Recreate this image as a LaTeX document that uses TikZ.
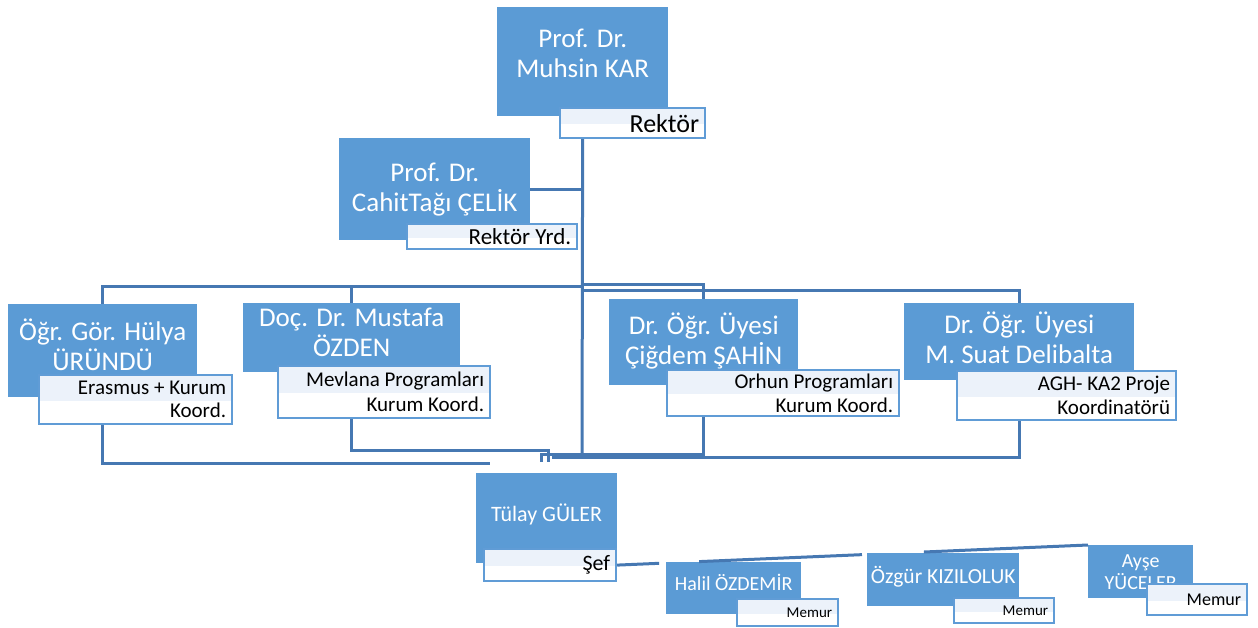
\documentclass[tikz,border=0pt]{standalone}
\usepackage{fontspec}
\setmainfont{Carlito}
\usepackage{tikz}

\definecolor{boxblue}{RGB}{91,155,213}
\definecolor{tagline}{RGB}{96,156,214}
\definecolor{tagband}{RGB}{236,242,250}
\definecolor{linkblue}{RGB}{70,120,178}

\newcommand{\fs}[2]{\fontsize{#1}{#2}\selectfont}

\begin{document}
\begin{tikzpicture}[x=1pt, y=-1pt,
  unit/.style={fill=boxblue, text=white, align=center, anchor=north west, inner sep=2pt, font=\fs{27}{30}},
  tag/.style={draw=tagline, line width=2.2pt, fill=white, anchor=north west, align=flush right, inner xsep=6pt, inner ysep=0pt, text=black,
    path picture={\fill[tagband] (path picture bounding box.north west) rectangle ([yshift=-1pt]path picture bounding box.east);}},
  link/.style={draw=linkblue, line width=3pt}]

\useasboundingbox (0,0) rectangle (1258,628);

% Rektor and Rektor Yrd.
\node[unit, minimum width=171, minimum height=109, text depth=16pt] (kar) at (497,7) {Prof. Dr.\\Muhsin KAR};
\node[unit, minimum width=191, minimum height=102] (cahit) at (339,138) {Prof. Dr.\\CahitTağı ÇELİK};

% Koordinatorler
\node[unit, minimum width=189, minimum height=93, text depth=12pt] (hulya) at (8,304) {Öğr. Gör. Hülya\\ÜRÜNDÜ};
\node[unit, minimum width=217, minimum height=69, text depth=10pt] (mustafa) at (243,303) {Doç. Dr. Mustafa\\ÖZDEN};
\node[unit, minimum width=189, minimum height=86, text depth=8pt] (cigdem) at (609,299) {Dr. Öğr. Üyesi\\Çiğdem ŞAHİN};
\node[unit, minimum width=230, minimum height=77, text depth=8pt] (suat) at (904,303) {Dr. Öğr. Üyesi\\M. Suat Delibalta};

% Sef and Memur
\node[unit, minimum width=141, minimum height=90, font=\fs{22}{25}, text depth=12pt] (tulay) at (476,473) {Tülay GÜLER};
\node[unit, minimum width=135, minimum height=52, font=\fs{20}{24}, text depth=12pt] (halil) at (666,562) {Halil ÖZDEMİR};
\node[unit, minimum width=152, minimum height=53, font=\fs{21.5}{24}, text depth=10pt] (ozgur) at (867,553) {Özgür KIZILOLUK};
\node[unit, minimum width=105, minimum height=53, font=\fs{20}{22}] (ayse) at (1088,545) {Ayşe\\YÜCELER};

% Connectors
\coordinate (hub) at (582,457);
\coordinate (busL) at (582,287);
\coordinate (busR) at (582,291);
\coordinate (hubA) at (490,463);
\coordinate (hubB) at (548,462);
\coordinate (hubC) at (541,462);
\coordinate (hubD) at (552,457);
\draw[link] (kar.south) -- (hub);
\draw[link] (cahit.east) -- (cahit.east -| hub);
\draw[link] (hulya.north) |- (busL);
\draw[link] (mustafa.north) -- (mustafa.north |- busL);
\draw[link] (cigdem.north) |- ([yshift=2pt]busL);
\draw[link] (suat.north) |- (busR);
\draw[link] (hulya.south) |- (hubA);
\draw[link] (mustafa.south) |- ([yshift=12pt]hubB) -- (hubB);
\draw[link] (cigdem.south) |- ([yshift=8pt]hubC) -- (hubC);
\draw[link] (suat.south) |- (hubD);

% Gorev etiketleri
\node[tag, text width=133, minimum height=30, font=\fs{26}{28}] (karTag) at (559,107) {Rektör};
\node[tag, text width=158, minimum height=25, font=\fs{23}{26}] (cahitTag) at (406,223) {Rektör Yrd.};
\node[tag, text width=181, minimum height=49, font=\fs{21}{23}] (hulyaTag) at (38,374) {Erasmus + Kurum\\Koord.};
\node[tag, text width=200, minimum height=52, font=\fs{21}{25}] (mustafaTag) at (277,365) {Mevlana Programları\\Kurum Koord.};
\node[tag, text width=220, minimum height=46, font=\fs{21}{24}] (cigdemTag) at (666,369) {Orhun Programları\\Kurum Koord.};
\node[tag, text width=207, minimum height=49, font=\fs{21}{24}] (suatTag) at (956,370) {AGH- KA2 Proje\\Koordinatörü};
\node[tag, text width=120, minimum height=32, font=\fs{22}{24}] (sefTag) at (483,548) {Şef};
\node[tag, text width=89, minimum height=27, font=\fs{15}{18}] (halilTag) at (736,598) {Memur};
\node[tag, text width=88, minimum height=25, font=\fs{15}{18}] (ozgurTag) at (953,597) {Memur};
\node[tag, text width=88, minimum height=31, font=\fs{18}{21}] (ayseTag) at (1146,583) {Memur};

\draw[link, dash pattern=on 42pt off 40pt on 163pt off 62pt on 170pt] (sefTag.east) -- (ayse.north west);

\end{tikzpicture}
\end{document}
